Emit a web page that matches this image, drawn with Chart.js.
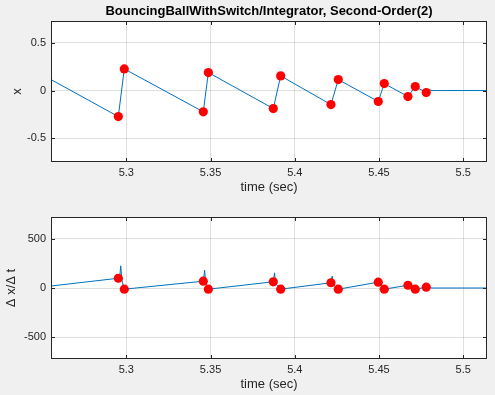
<!DOCTYPE html>
<html>
<head>
<meta charset="utf-8">
<script src="https://cdn.jsdelivr.net/npm/chart.js@4/dist/chart.umd.min.js"></script>
<style>
  html, body { margin: 0; padding: 0; background: #f0f0f0; }
  body { width: 495px; height: 395px; position: relative; overflow: hidden; }
  canvas { position: absolute; left: 0; }
  #c1 { top: 0; }
  #c2 { top: 200px; }
</style>
</head>
<body>
<canvas id="c1" width="495" height="200"></canvas>
<canvas id="c2" width="495" height="195"></canvas>
<script>
// ---- data ----
const titleText = 'BouncingBallWithSwitch/Integrator, Second-Order(2)';
const xTickVals = [5.3, 5.35, 5.4, 5.45, 5.5];
const posTickVals = [-0.5, 0, 0.5];
const velTickVals = [-500, 0, 500];

// position trace x(t)
const tPos = [5.2553, 5.29525, 5.29881, 5.3457, 5.3487, 5.38724, 5.39163, 5.42148, 5.42582, 5.44955, 5.45312, 5.46718, 5.47151, 5.47804, 5.4795, 5.4815, 5.5141];
const xPos = [0.115, -0.273, 0.227, -0.223, 0.189, -0.189, 0.154, -0.147, 0.115, -0.115, 0.073, -0.063, 0.042, -0.021, 0.01, 0, 0];

// zero-crossing markers (event times)
const tMark = [5.29525, 5.29881, 5.3457, 5.3487, 5.38724, 5.39163, 5.42148, 5.42582, 5.44955, 5.45312, 5.46718, 5.47151, 5.47804];
const xMark = [-0.273, 0.227, -0.223, 0.189, -0.189, 0.154, -0.147, 0.115, -0.115, 0.073, -0.063, 0.042, -0.021];
const vMark = [99, -12, 69, -12, 63, -12, 53, -12, 59, -12, 28, -12, 8];

// derivative trace dx/dt
const tVel = [5.2553, 5.29525, 5.29608, 5.29668, 5.29727, 5.29763, 5.29881,
              5.3457, 5.3465, 5.3471, 5.3487,
              5.38724, 5.3880, 5.3886, 5.39163,
              5.42148, 5.4222, 5.4228, 5.42582,
              5.44955, 5.45312, 5.46718, 5.47151, 5.47804, 5.4815, 5.5141];
const vVel = [20, 99, 105, 225, 100, 60, -12,
              69, 180, 50, -12,
              63, 154, 45, -12,
              53, 120, 35, -12,
              59, -12, 28, -12, 8, 0, 0];

const xMin = 5.2553, xMax = 5.5141;
const posMin = -0.75, posMax = 0.73;
const velMin = -720, velMax = 720;

// ---- helpers ----
const pts = (a, b) => a.map((v, i) => ({ x: v, y: b[i] }));
const FONT = "'Liberation Sans', Arial, Helvetica, sans-serif";
const AX = '#262626';
const GRID = 'rgba(38,38,38,0.15)';

const boxPlugin = {
  id: 'matlabBox',
  beforeDraw(chart) {
    const { ctx, chartArea: a } = chart;
    ctx.save();
    ctx.fillStyle = '#ffffff';
    ctx.fillRect(a.left, a.top, a.right - a.left, a.bottom - a.top);
    ctx.restore();
  },
  afterDatasetsDraw(chart) {
    const { ctx, chartArea: a, scales } = chart;
    ctx.save();
    ctx.strokeStyle = AX;
    ctx.lineWidth = 1;
    ctx.strokeRect(a.left + 0.5, a.top + 0.5, a.right - a.left - 1, a.bottom - a.top - 1);
    const L = 4;
    ctx.beginPath();
    scales.x.ticks.forEach(t => {
      const px = Math.round(scales.x.getPixelForValue(t.value)) + 0.5;
      ctx.moveTo(px, a.bottom); ctx.lineTo(px, a.bottom - L);
      ctx.moveTo(px, a.top); ctx.lineTo(px, a.top + L);
    });
    scales.y.ticks.forEach(t => {
      const py = Math.round(scales.y.getPixelForValue(t.value)) + 0.5;
      ctx.moveTo(a.left, py); ctx.lineTo(a.left + L, py);
      ctx.moveTo(a.right, py); ctx.lineTo(a.right - L, py);
    });
    ctx.stroke();
    ctx.restore();
  }
};

function makeChart(id, opts) {
  return new Chart(document.getElementById(id), {
    type: 'scatter',
    data: {
      datasets: [
        { data: pts(opts.tm, opts.ym), showLine: false, pointRadius: 4.6, pointHoverRadius: 4.6,
          pointBackgroundColor: '#ff0000', pointBorderColor: '#ff0000', pointBorderWidth: 0, order: 0 },
        { data: pts(opts.tl, opts.yl), showLine: true, pointRadius: 0, borderColor: '#0072BD',
          borderWidth: 1, tension: 0, fill: false, order: 1 }
      ]
    },
    options: {
      responsive: false,
      animation: false,
      devicePixelRatio: 1,
      layout: { padding: { top: opts.padTop, left: 0, right: 8, bottom: 0 } },
      plugins: {
        legend: { display: false },
        tooltip: { enabled: false },
        title: opts.title ? {
          display: true, text: opts.title, fullSize: false, color: '#000000',
          font: { family: FONT, size: 13, weight: 'bold', lineHeight: 1.2 },
          padding: { top: 3.8, bottom: 1.6 }
        } : { display: false }
      },
      scales: {
        x: {
          type: 'linear', min: xMin, max: xMax,
          afterBuildTicks: s => { s.ticks = xTickVals.map(v => ({ value: v })); },
          afterFit: s => { s.height = opts.xH; },
          ticks: { color: AX, font: { family: FONT, size: 11, lineHeight: 1.2 }, padding: 4.7,
                   maxRotation: 0, autoSkip: false, callback: v => String(v) },
          grid: { color: GRID, drawTicks: false, lineWidth: 1 },
          border: { display: false },
          title: { display: true, text: 'time (sec)', color: AX,
                   font: { family: FONT, size: 13, lineHeight: 1.2 }, padding: { top: 0, bottom: opts.xTitlePad } }
        },
        y: {
          type: 'linear', min: opts.yMin, max: opts.yMax,
          afterBuildTicks: s => { s.ticks = opts.yTicks.map(v => ({ value: v })); },
          afterFit: s => { s.width = 51; },
          ticks: { color: AX, font: { family: FONT, size: 11, lineHeight: 1.2 }, padding: 5,
                   autoSkip: false, callback: v => String(v) },
          grid: { color: GRID, drawTicks: false, lineWidth: 1 },
          border: { display: false },
          title: { display: true, text: opts.yTitle, color: AX,
                   font: { family: FONT, size: 13, lineHeight: 1.2 }, padding: { top: opts.yTitlePad, bottom: 0 } }
        }
      }
    },
    plugins: [boxPlugin]
  });
}

makeChart('c1', {
  tl: tPos, yl: xPos, tm: tMark, ym: xMark,
  yMin: posMin, yMax: posMax, yTicks: posTickVals,
  yTitle: 'x', yTitlePad: 9.5, title: titleText, padTop: 0,
  xH: 38, xTitlePad: 5.2
});

makeChart('c2', {
  tl: tVel, yl: vVel, tm: tMark, ym: vMark,
  yMin: velMin, yMax: velMax, yTicks: velTickVals,
  yTitle: 'Δ x/Δ t', yTitlePad: 3.2, title: null, padTop: 17,
  xH: 36, xTitlePad: 3.2
});
</script>
</body>
</html>
